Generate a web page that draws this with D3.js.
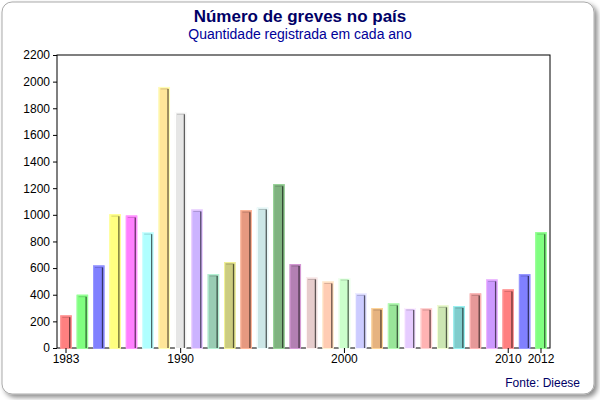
<!DOCTYPE html><html><head><meta charset="utf-8"><script src="https://cdn.jsdelivr.net/npm/d3@7"></script>
<style>body{margin:0;background:#fff}</style></head><body><svg id="c" width="600" height="400"></svg><script>
const years=d3.range(1983,2013);
const values=[245,400,620,1005,995,870,1960,1770,1040,555,645,1035,1055,1230,630,530,500,525,410,300,335,300,300,320,315,410,515,440,555,870];
const colors=["#ff8080","#80ff80","#8080ff","#ffff80","#ff80ff","#b0ffff","#ffe699","#e6e6e6","#ccb3ff","#99ccb3","#cccc80","#e69980","#cce6e6","#80b380","#b380b3","#e6cccc","#ffccb3","#ccffcc","#ccccff","#e6b380","#99e699","#e6ccff","#ffb3b3","#cce6b3","#80cccc","#e69999","#cc99ff","#ff8080","#8080ff","#80ff80"];
const yTicks=d3.range(0,2201,200);
const xLabels=[1983,1990,2000,2010,2012];
const svg=d3.select("#c");
const defs=svg.append("defs");
const f=defs.append("filter").attr("id","sh").attr("x","-5%").attr("y","-5%").attr("width","115%").attr("height","115%");
f.append("feDropShadow").attr("dx",3).attr("dy",3).attr("stdDeviation",2.5).attr("flood-color","#000").attr("flood-opacity",0.45);
svg.append("rect").attr("x",2).attr("y",2).attr("width",592).attr("height",392).attr("rx",10).attr("fill","#fff").attr("stroke","#aaa").attr("filter","url(#sh)");
const L=57,R=550,T=55,B=348;
const x=d3.scaleBand().domain(years).range([L,R]).paddingInner(0.3).paddingOuter(0.2);
const y=d3.scaleLinear().domain([0,2200]).range([B,T]);
svg.append("rect").attr("x",L).attr("y",T).attr("width",R-L).attr("height",B-T).attr("fill","none").attr("stroke","#000");
const g=svg.append("g");
years.forEach((yr,i)=>{
 const x0=x(yr),w=x.bandwidth(),y0=y(values[i]),h=B-y0;
 const c=d3.color(colors[i]);
 g.append("rect").attr("x",x0).attr("y",y0).attr("width",w).attr("height",h).attr("fill",colors[i]);
 g.append("rect").attr("x",x0+0.5).attr("y",y0+0.5).attr("width",w-1).attr("height",h).attr("fill","none").attr("stroke",c.brighter(0.5)).attr("stroke-width",1);
 g.append("line").attr("x1",x0+w-2).attr("x2",x0+w-2).attr("y1",y0+2).attr("y2",B).attr("stroke",c.darker(2.5)).attr("stroke-width",1.3);
 g.append("line").attr("x1",x0+2).attr("x2",x0+w-2).attr("y1",y0+2).attr("y2",y0+2).attr("stroke",c.darker(2)).attr("stroke-width",0.8).attr("opacity",0.4);
});
const ya=svg.append("g").attr("transform",`translate(${L},0)`).call(d3.axisLeft(y).tickValues(yTicks).tickFormat(d3.format("d")).tickSize(4).tickSizeOuter(0));
ya.select(".domain").remove();
ya.selectAll("text").attr("font-family","Liberation Sans, Arial").attr("font-size",12).attr("fill","#000");
const xa=svg.append("g").attr("transform",`translate(0,${B})`).call(d3.axisBottom(x).tickValues(xLabels).tickSize(5).tickSizeOuter(0));
xa.select(".domain").remove();
xa.selectAll("text").attr("font-family","Liberation Sans, Arial").attr("font-size",12).attr("fill","#000").attr("dy","0.6em");
svg.append("text").attr("x",300).attr("y",22).attr("text-anchor","middle").attr("font-family","Liberation Sans, Arial").attr("font-weight","bold").attr("font-size",17).attr("fill","#000066").text("Número de greves no país");
svg.append("text").attr("x",300).attr("y",39).attr("text-anchor","middle").attr("font-family","Liberation Sans, Arial").attr("font-size",14).attr("fill","#000099").text("Quantidade registrada em cada ano");
svg.append("text").attr("x",580).attr("y",387).attr("text-anchor","end").attr("font-family","Liberation Sans, Arial").attr("font-size",12).attr("fill","#000066").text("Fonte: Dieese");
</script></body></html>
